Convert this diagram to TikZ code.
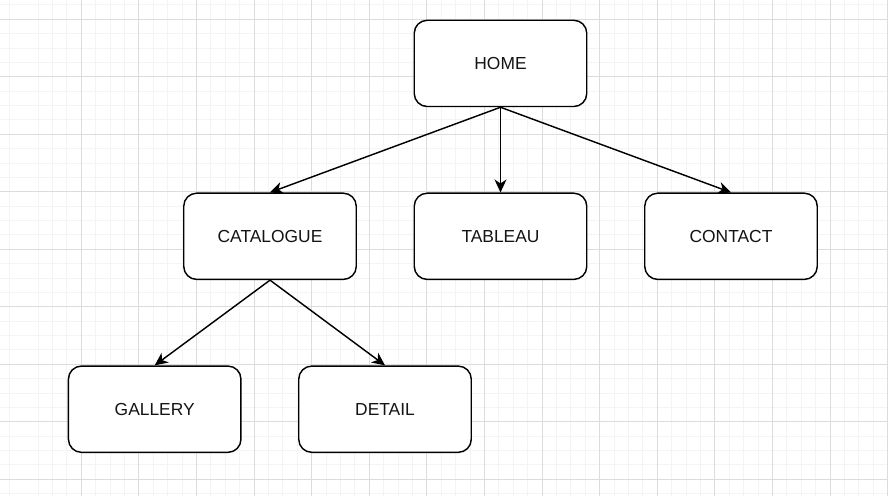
\documentclass[tikz,border=0pt]{standalone}
\usepackage{fontspec}
\setmainfont{Liberation Sans}
\usetikzlibrary{arrows.meta}
\definecolor{gridmaj}{RGB}{220,220,220}
\definecolor{gridmin}{RGB}{244,244,244}
\definecolor{txt}{RGB}{20,20,20}
\tikzset{
  page/.style={x=1pt,y=-1pt},
  pagebox/.style={draw=black,line width=1.44pt,rounded corners=13pt,fill=white,
    minimum width=172.5pt,minimum height=86.25pt,inner sep=0pt,
    font=\fontsize{17.4pt}{20pt}\selectfont,text=txt},
  link/.style={draw=black,line width=1.44pt,-{Stealth[length=13pt,width=12pt,inset=4pt]}},
  minorline/.style={draw=gridmin,line width=1pt},
  majorline/.style={draw=gridmaj,line width=1pt}
}
\begin{document}
\begin{tikzpicture}[page]
\useasboundingbox (0,0) rectangle (888,496);
\fill[white] (0,0) rectangle (888,496);
% grid
\foreach \k in {0,2,3,...,61} {
  \draw[minorline] ({9.3+14.4*\k},0) -- ({9.3+14.4*\k},496);
}
\foreach \k in {0,1,...,34} {
  \draw[minorline] (0,{4.9+14.375*\k}) -- (888,{4.9+14.375*\k});
}
\foreach \k in {0,1,...,14} {
  \draw[majorline] ({81.3+57.6*\k},0) -- ({81.3+57.6*\k},496);
}
\foreach \k in {0,1,...,8} {
  \draw[majorline] (0,{19.3+57.5*\k}) -- (888,{19.3+57.5*\k});
}
% nodes
\node[pagebox] (home) at (500.5,63.4) {HOME};
\node[pagebox] (cat) at (270,236.3) {CATALOGUE};
\node[pagebox] (tab) at (500.5,236.3) {TABLEAU};
\node[pagebox] (con) at (731,236.3) {CONTACT};
\node[pagebox] (gal) at (154.7,409.2) {GALLERY};
\node[pagebox] (det) at (385,409.2) {DETAIL};
% links
\draw[link] (home.south) -- (cat.north);
\draw[link] (home.south) -- (tab.north);
\draw[link] (home.south) -- (con.north);
\draw[link] (cat.south) -- (gal.north);
\draw[link] (cat.south) -- (det.north);
\end{tikzpicture}
\end{document}
